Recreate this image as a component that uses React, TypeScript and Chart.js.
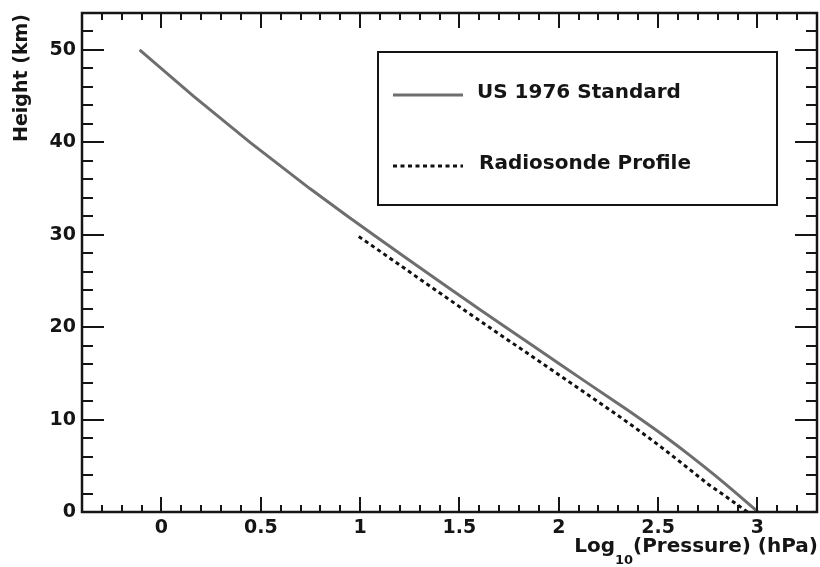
import React, { useEffect, useRef } from 'react';
import { Chart, registerables } from 'chart.js';

Chart.register(...registerables);

// ---- Data ----
const stdHeights = [0, 1, 2, 3, 4, 5, 6, 7, 8, 9, 10, 11, 12, 14, 16, 18, 20, 22, 24, 26, 28, 30, 32, 35, 40, 45, 50];
const stdLogP = [3.003, 2.95, 2.896, 2.841, 2.785, 2.727, 2.668, 2.607, 2.545, 2.481, 2.415, 2.348, 2.279, 2.142, 2.006, 1.87, 1.733, 1.597, 1.463, 1.33, 1.198, 1.067, 0.937, 0.747, 0.446, 0.161, -0.11];

const sondeHeights = [0, 1, 2, 3, 4, 5, 6, 7, 8, 9, 10, 12, 14, 16, 18, 20, 22, 24, 26, 28, 30];
const sondeLogP = [2.95, 2.885, 2.82, 2.752, 2.694, 2.636, 2.577, 2.517, 2.455, 2.392, 2.327, 2.193, 2.058, 1.922, 1.786, 1.65, 1.515, 1.381, 1.248, 1.115, 0.98];

const seriesLabels = ['US 1976 Standard', 'Radiosonde Profile'];

const xMajorTicks = [0, 0.5, 1, 1.5, 2, 2.5, 3];
const xTickLabels = ['0', '0.5', '1', '1.5', '2', '2.5', '3'];
const yMajorTicks = [0, 10, 20, 30, 40, 50];
const yTickLabels = ['0', '10', '20', '30', '40', '50'];

const X_MIN = -0.4;
const X_MAX = 3.3;
const Y_MIN = 0;
const Y_MAX = 54;
const X_MINOR_STEP = 0.1;
const Y_MINOR_STEP = 2;

const yTitle = 'Height (km)';
const xTitleParts = ['Log', '10', '(Pressure) (hPa)'];

const FONT = '"DejaVu Sans", "Liberation Sans", Arial, sans-serif';
const INK = '#151515';

const overlayPlugin = {
  id: 'rootStyle',
  afterDatasetsDraw(chart: any) {
    const { ctx, chartArea: a, scales } = chart;
    const x = scales.x;
    const y = scales.y;
    ctx.save();
    ctx.strokeStyle = INK;
    ctx.lineWidth = 2;
    ctx.lineCap = 'butt';
    const nx = Math.round((X_MAX - X_MIN) / X_MINOR_STEP);
    for (let i = 0; i <= nx; i++) {
      const v = X_MIN + i * X_MINOR_STEP;
      const major = xMajorTicks.some((m) => Math.abs(m - v) < 1e-6);
      const len = major ? 15 : 7;
      const px = Math.round(x.getPixelForValue(v));
      ctx.beginPath();
      ctx.moveTo(px, a.bottom);
      ctx.lineTo(px, a.bottom - len);
      ctx.moveTo(px, a.top);
      ctx.lineTo(px, a.top + len);
      ctx.stroke();
    }
    const ny = Math.round((Y_MAX - Y_MIN) / Y_MINOR_STEP);
    for (let i = 0; i <= ny; i++) {
      const v = Y_MIN + i * Y_MINOR_STEP;
      const major = yMajorTicks.some((m) => Math.abs(m - v) < 1e-6);
      const len = major ? 22 : 11;
      const py = Math.round(y.getPixelForValue(v));
      ctx.beginPath();
      ctx.moveTo(a.left, py);
      ctx.lineTo(a.left + len, py);
      ctx.moveTo(a.right, py);
      ctx.lineTo(a.right - len, py);
      ctx.stroke();
    }
    ctx.lineWidth = 2.5;
    ctx.strokeRect(a.left, a.top, a.right - a.left, a.bottom - a.top);
    ctx.restore();
  },
  afterDraw(chart: any) {
    const { ctx, chartArea: a } = chart;
    ctx.save();
    const bx = 378, by = 52, bw = 399, bh = 153;
    ctx.fillStyle = '#ffffff';
    ctx.fillRect(bx, by, bw, bh);
    ctx.strokeStyle = INK;
    ctx.lineWidth = 2;
    ctx.strokeRect(bx, by, bw, bh);
    const rows = [95, 166];
    chart.data.datasets.forEach((ds: any, i: number) => {
      const ly = rows[i];
      ctx.save();
      ctx.strokeStyle = ds.borderColor;
      ctx.lineWidth = ds.borderWidth;
      ctx.setLineDash(ds.borderDash || []);
      ctx.beginPath();
      ctx.moveTo(393, ly);
      ctx.lineTo(463, ly);
      ctx.stroke();
      ctx.restore();
      ctx.fillStyle = INK;
      ctx.font = `bold 20px ${FONT}`;
      ctx.textAlign = 'left';
      ctx.textBaseline = 'middle';
      ctx.fillText(seriesLabels[i], i === 0 ? 477 : 479, ly - 2);
    });
    ctx.fillStyle = INK;
    ctx.font = `bold 19px ${FONT}`;
    ctx.save();
    ctx.translate(27, a.top + 1);
    ctx.rotate(-Math.PI / 2);
    ctx.textAlign = 'right';
    ctx.textBaseline = 'alphabetic';
    ctx.fillText(yTitle, 0, 0);
    ctx.restore();
    const big = `bold 20px ${FONT}`;
    const small = `bold 13px ${FONT}`;
    ctx.font = big;
    const w0 = ctx.measureText(xTitleParts[0]).width;
    const w2 = ctx.measureText(xTitleParts[2]).width;
    ctx.font = small;
    const w1 = ctx.measureText(xTitleParts[1]).width;
    const total = w0 + w1 + w2;
    let sx = 818 - total;
    const base = 552;
    ctx.textAlign = 'left';
    ctx.textBaseline = 'alphabetic';
    ctx.font = big;
    ctx.fillText(xTitleParts[0], sx, base);
    sx += w0;
    ctx.font = small;
    ctx.fillText(xTitleParts[1], sx, base + 12);
    sx += w1;
    ctx.font = big;
    ctx.fillText(xTitleParts[2], sx, base);
    ctx.restore();
  },
};

export default function App() {
  const canvasRef = useRef<HTMLCanvasElement | null>(null);

  useEffect(() => {
    document.body.style.margin = '0';
    const canvas = canvasRef.current;
    if (!canvas) return;
    const stdData = stdHeights.map((h, i) => ({ x: stdLogP[i], y: h }));
    const sondeData = sondeHeights.map((h, i) => ({ x: sondeLogP[i], y: h }));
    const chart = new Chart(canvas, {
      type: 'scatter',
      data: {
        datasets: [
          {
            label: seriesLabels[0],
            data: stdData,
            showLine: true,
            borderColor: '#6e6e6e',
            backgroundColor: '#6e6e6e',
            borderWidth: 3,
            pointRadius: 0,
            tension: 0,
          },
          {
            label: seriesLabels[1],
            data: sondeData,
            showLine: true,
            borderColor: '#111111',
            backgroundColor: '#111111',
            borderWidth: 3,
            borderDash: [4, 3.5],
            pointRadius: 0,
            tension: 0,
          },
        ],
      },
      options: {
        animation: false,
        responsive: false,
        maintainAspectRatio: false,
        devicePixelRatio: 1,
        layout: { padding: { left: 0, right: 3, top: 13, bottom: 0 } },
        plugins: {
          legend: { display: false },
          tooltip: { enabled: false },
          title: { display: false },
        },
        scales: {
          x: {
            type: 'linear',
            min: X_MIN,
            max: X_MAX,
            grid: { display: false, drawTicks: false },
            border: { display: false },
            afterBuildTicks: (scale: any) => {
              scale.ticks = xMajorTicks.map((v) => ({ value: v }));
            },
            afterFit: (scale: any) => {
              scale.height = 55;
              scale.paddingLeft = 0;
              scale.paddingRight = 0;
            },
            ticks: {
              autoSkip: false,
              maxRotation: 0,
              padding: 5,
              color: INK,
              font: { family: FONT, size: 19, weight: 'bold' },
              callback: (v: any) => {
                const idx = xMajorTicks.findIndex((m) => Math.abs(m - Number(v)) < 1e-6);
                return idx >= 0 ? xTickLabels[idx] : '';
              },
            },
          },
          y: {
            type: 'linear',
            min: Y_MIN,
            max: Y_MAX,
            grid: { display: false, drawTicks: false },
            border: { display: false },
            afterBuildTicks: (scale: any) => {
              scale.ticks = yMajorTicks.map((v) => ({ value: v }));
            },
            afterFit: (scale: any) => {
              scale.width = 82;
              scale.paddingTop = 0;
              scale.paddingBottom = 0;
            },
            ticks: {
              autoSkip: false,
              padding: 6,
              color: INK,
              font: { family: FONT, size: 19, weight: 'bold' },
              callback: (v: any) => {
                const idx = yMajorTicks.findIndex((m) => Math.abs(m - Number(v)) < 1e-6);
                return idx >= 0 ? yTickLabels[idx] : '';
              },
            },
          },
        },
      },
      plugins: [overlayPlugin],
    });
    return () => chart.destroy();
  }, []);

  return (
    <div style={{ position: 'absolute', left: 0, top: 0, width: 820, height: 567, background: '#fff' }}>
      <canvas ref={canvasRef} width={820} height={567} style={{ display: 'block', width: 820, height: 567 }} />
    </div>
  );
}
